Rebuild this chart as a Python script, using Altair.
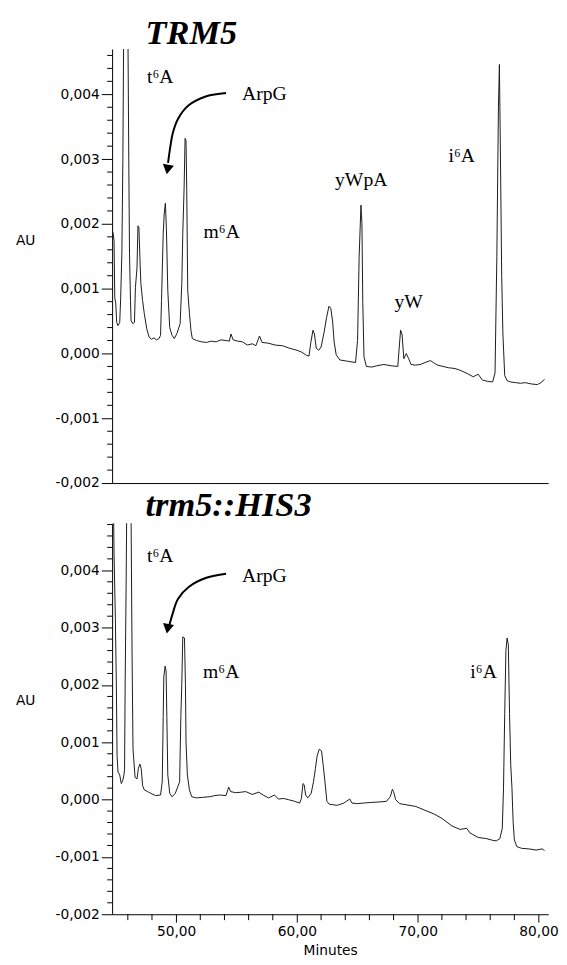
import altair as alt
import pandas as pd

# ---------------- data ----------------
X_DOMAIN = [44.7, 80.8]
TOP_Y_DOMAIN = [-0.002, 0.0047]
BOT_Y_DOMAIN = [-0.002, 0.00482]

# axis ticks: labelled majors and unlabelled minors
Y_MAJOR = [-0.002, -0.001, 0.0, 0.001, 0.002, 0.003, 0.004]
X_MAJOR = [50, 60, 70, 80]
X_MINOR = [46, 48, 52, 54, 56, 58, 62, 64, 66, 68, 72, 74, 76, 78]
Y_MINOR_TOP = [round(-0.002 + 0.0002 * i, 4) for i in range(34) if i % 5 != 0]
Y_MINOR_BOT = [round(-0.002 + 0.0002 * i, 4) for i in range(35) if i % 5 != 0]

top_min = [44.70, 44.78, 44.86, 44.92, 45.00, 45.08, 45.19, 45.33, 45.41, 45.51,
           45.59, 45.83, 46.08, 46.14, 46.22, 46.27, 46.41, 46.55, 46.63, 46.76,
           46.84, 46.92, 47.00, 47.08, 47.22, 47.36, 47.57, 47.77, 47.97, 48.17,
           48.38, 48.58, 48.71, 48.79, 48.93, 49.01, 49.11, 49.20, 49.31, 49.47,
           49.66, 49.85, 50.07, 50.33, 50.47, 50.55, 50.66, 50.74, 50.82, 50.88,
           50.96, 51.10, 51.23, 51.34, 51.69, 52.10, 52.50, 52.90, 53.32, 53.70,
           54.13, 54.40, 54.54, 54.72, 55.10, 55.49, 55.90, 56.30, 56.60, 56.90,
           57.11, 57.60, 58.20, 58.80, 59.40, 60.00, 60.40, 60.80, 61.00, 61.15,
           61.33, 61.45, 61.60, 61.80, 62.00, 62.25, 62.45, 62.65, 62.80, 62.95,
           63.08, 63.25, 63.55, 64.20, 64.85, 65.02, 65.15, 65.30, 65.38, 65.45,
           65.55, 65.75, 66.20, 66.60, 67.20, 67.80, 68.35, 68.45, 68.58, 68.70,
           68.85, 69.05, 69.25, 69.45, 69.80, 70.20, 70.60, 71.05, 71.30, 71.65,
           72.10, 72.55, 73.00, 73.40, 74.00, 74.60, 75.00, 75.35, 75.80, 76.20,
           76.40, 76.55, 76.68, 76.76, 76.85, 76.95, 77.05, 77.20, 77.40, 77.70,
           78.10, 78.50, 78.90, 79.40, 79.90, 80.20, 80.50]
top_au = [0.00189, 0.00186, 0.00174, 0.00086, 0.00078, 0.00048, 0.00043, 0.00048, 0.00086, 0.00158,
          0.00300, 0.01000, 0.00300, 0.00154, 0.00082, 0.00051, 0.00046, 0.00048, 0.00102, 0.00132,
          0.00197, 0.00194, 0.00148, 0.00108, 0.00082, 0.00062, 0.00038, 0.00025, 0.00022, 0.00024,
          0.00021, 0.00023, 0.00028, 0.00082, 0.00185, 0.00215, 0.00232, 0.00189, 0.00097, 0.00040,
          0.00028, 0.00023, 0.00031, 0.00046, 0.00108, 0.00185, 0.00255, 0.00332, 0.00328, 0.00251,
          0.00097, 0.00062, 0.00035, 0.00023, 0.00020, 0.00018, 0.00017, 0.00019, 0.00018, 0.00021,
          0.00020, 0.00019, 0.00030, 0.00021, 0.00019, 0.00018, 0.00013, 0.00015, 0.00012, 0.00027,
          0.00017, 0.00016, 0.00013, 0.00012, 0.00008, 0.00005, 0.00002, -0.00003, -0.00004, 0.00017,
          0.00036, 0.00030, 0.00008, 0.00005, 0.00010, 0.00033, 0.00055, 0.00073, 0.00070, 0.00050,
          0.00018, -0.00002, -0.00010, -0.00012, -0.00014, 0.00020, 0.00150, 0.00229, 0.00200, 0.00080,
          -0.00005, -0.00020, -0.00021, -0.00019, -0.00017, -0.00019, -0.00020, 0.00005, 0.00036, 0.00030,
          -0.00008, 0.00000, -0.00008, -0.00017, -0.00018, -0.00017, -0.00014, -0.00011, -0.00014, -0.00018,
          -0.00020, -0.00022, -0.00023, -0.00025, -0.00030, -0.00036, -0.00032, -0.00041, -0.00043, -0.00044,
          -0.00030, 0.00150, 0.00380, 0.00446, 0.00300, 0.00120, 0.00030, -0.00034, -0.00042, -0.00044,
          -0.00045, -0.00046, -0.00045, -0.00047, -0.00048, -0.00045, -0.00040]

bot_min = [44.76, 44.86, 44.97, 45.05, 45.11, 45.19, 45.33, 45.46, 45.59, 45.68,
           45.73, 45.78, 45.86, 46.10, 46.35, 46.43, 46.49, 46.60, 46.76, 46.87,
           47.00, 47.11, 47.22, 47.36, 47.63, 47.90, 48.30, 48.71, 48.85, 48.93,
           48.98, 49.09, 49.17, 49.23, 49.31, 49.47, 49.66, 49.93, 50.29, 50.39,
           50.47, 50.55, 50.69, 50.77, 50.82, 50.93, 51.10, 51.29, 51.69, 52.20,
           52.77, 53.20, 53.59, 54.13, 54.35, 54.51, 54.94, 55.40, 55.76, 56.30,
           56.84, 57.20, 57.65, 58.14, 58.46, 58.90, 59.28, 59.82, 60.23, 60.37,
           60.50, 60.60, 60.72, 60.90, 61.18, 61.37, 61.53, 61.67, 61.85, 62.04,
           62.18, 62.32, 62.48, 62.67, 63.00, 63.34, 63.89, 64.37, 64.56, 65.00,
           65.51, 66.06, 66.87, 67.41, 67.73, 67.90, 68.00, 68.17, 68.50, 69.03,
           69.85, 70.53, 71.34, 72.02, 72.83, 73.51, 74.05, 74.32, 75.00, 75.68,
           76.20, 76.50, 76.80, 77.00, 77.10, 77.20, 77.30, 77.40, 77.50, 77.60,
           77.70, 77.80, 77.90, 78.00, 78.20, 78.60, 79.20, 79.80, 80.30, 80.50]
bot_au = [0.00600, 0.00430, 0.00316, 0.00202, 0.00077, 0.00048, 0.00043, 0.00028, 0.00034, 0.00043,
          0.00053, 0.00202, 0.00373, 0.01000, 0.00259, 0.00088, 0.00071, 0.00039, 0.00036, 0.00054,
          0.00062, 0.00054, 0.00025, 0.00017, 0.00014, 0.00011, 0.00007, 0.00008, 0.00031, 0.00145,
          0.00214, 0.00233, 0.00224, 0.00145, 0.00043, 0.00011, 0.00005, 0.00011, 0.00031, 0.00145,
          0.00202, 0.00284, 0.00282, 0.00202, 0.00099, 0.00043, 0.00017, 0.00005, 0.00003, 0.00004,
          0.00005, 0.00007, 0.00008, 0.00007, 0.00022, 0.00014, 0.00012, 0.00013, 0.00014, 0.00009,
          0.00013, 0.00008, 0.00003, 0.00008, 0.00001, 0.00002, 0.00000, -0.00003, -0.00006, 0.00002,
          0.00028, 0.00026, 0.00008, 0.00003, 0.00011, 0.00031, 0.00054, 0.00076, 0.00088, 0.00085,
          0.00059, 0.00031, -0.00003, -0.00008, -0.00009, -0.00010, -0.00006, 0.00001, -0.00006, -0.00007,
          -0.00006, -0.00005, -0.00004, -0.00003, 0.00005, 0.00018, 0.00014, 0.00000, -0.00007, -0.00009,
          -0.00012, -0.00018, -0.00025, -0.00033, -0.00046, -0.00052, -0.00050, -0.00058, -0.00066, -0.00068,
          -0.00071, -0.00072, -0.00068, -0.00050, 0.00020, 0.00150, 0.00260, 0.00282, 0.00270, 0.00150,
          0.00060, 0.00020, -0.00040, -0.00070, -0.00082, -0.00085, -0.00086, -0.00088, -0.00086, -0.00089]

top_labels = ["t\u2076A", "ArpG", "m\u2076A", "yWpA", "yW", "i\u2076A"]
top_label_min = [48.68, 57.30, 53.77, 65.32, 69.25, 73.64]
top_label_au = [0.00426, 0.00400, 0.00188, 0.00267, 0.00079, 0.00304]

bot_labels = ["t\u2076A", "ArpG", "m\u2076A", "i\u2076A"]
bot_label_min = [48.68, 57.30, 53.73, 75.45]
bot_label_au = [0.00424, 0.00390, 0.00222, 0.00222]

top_arrow_min = [54.13, 52.50, 51.04, 50.15, 49.72, 49.51, 49.33]
top_arrow_au = [0.00402, 0.00397, 0.00383, 0.00362, 0.00340, 0.00318, 0.00294]
top_head_min = [49.29]
top_head_au = [0.00284]

bot_arrow_min = [54.13, 52.50, 51.04, 50.15, 49.72, 49.42]
bot_arrow_au = [0.00394, 0.00387, 0.00371, 0.00350, 0.00325, 0.00303]
bot_head_min = [49.30]
bot_head_au = [0.00298]

# ---------------- chart ----------------
Y_LABEL_EXPR = "replace(replace(format(datum.value, '.3f'), '.', ','), '\u2212', '-')"
X_LABEL_EXPR = "replace(format(datum.value, '.2f'), '.', ',')"
INK = "#1a1a1a"
MINOR_Y_LEN = 5
MINOR_X_LEN = 6
PLOT_W = 444


def panel(mins, aus, labels, lab_min, lab_au, arr_min, arr_au, head_min, head_au,
          ydom, y_minor, height, title, title_offset, au_y, bottom):
    df = pd.DataFrame({"Minutes": mins, "AU": aus})
    df_lab = pd.DataFrame({"Minutes": lab_min, "AU": lab_au, "label": labels})
    df_arr = pd.DataFrame({"Minutes": arr_min, "AU": arr_au, "i": list(range(len(arr_min)))})
    df_head = pd.DataFrame({"Minutes": head_min, "AU": head_au})
    df_ymin = pd.DataFrame({"AU": y_minor})
    df_unit = pd.DataFrame({"unit": ["AU"]})

    xs = alt.Scale(domain=X_DOMAIN, nice=False, zero=False)
    ys = alt.Scale(domain=ydom, nice=False, zero=False)

    y_axis = alt.Axis(values=Y_MAJOR, labelExpr=Y_LABEL_EXPR, tickSize=11, orient="left",
                      title=None, grid=False)
    if bottom:
        x_axis = alt.Axis(values=X_MAJOR, labelExpr=X_LABEL_EXPR, tickSize=8, orient="bottom",
                          title="Minutes", titlePadding=5, grid=False, labelPadding=3)
    else:
        x_axis = alt.Axis(ticks=False, labels=False, title=None, orient="bottom", grid=False)

    line = alt.Chart(df).mark_line(color=INK, strokeWidth=1, clip=True).encode(
        x=alt.X("Minutes:Q", scale=xs, axis=x_axis),
        y=alt.Y("AU:Q", scale=ys, axis=y_axis),
    )
    text = alt.Chart(df_lab).mark_text(font="Liberation Serif", fontSize=20, color="black",
                                       align="center", baseline="middle").encode(
        x=alt.X("Minutes:Q", scale=xs, axis=None),
        y=alt.Y("AU:Q", scale=ys, axis=None),
        text="label:N",
    )
    arrow = alt.Chart(df_arr).mark_line(color="black", strokeWidth=2,
                                        interpolate="catmull-rom").encode(
        x=alt.X("Minutes:Q", scale=xs, axis=None),
        y=alt.Y("AU:Q", scale=ys, axis=None),
        order="i:Q",
    )
    head = alt.Chart(df_head).mark_point(shape="triangle-down", filled=True, color="black",
                                         size=130, opacity=1, angle=10).encode(
        x=alt.X("Minutes:Q", scale=xs, axis=None),
        y=alt.Y("AU:Q", scale=ys, axis=None),
    )
    # y axis title ("AU"), placed left of the tick labels like the original
    unit = alt.Chart(df_unit).mark_text(font="DejaVu Sans", fontSize=14, color="black",
                                        align="center", baseline="middle").encode(
        x=alt.value(-88), y=alt.value(au_y), text="unit:N",
    )
    # minor tick marks of the y axis
    y_minor_ticks = alt.Chart(df_ymin).mark_rule(color="black", strokeWidth=1).encode(
        y=alt.Y("AU:Q", scale=ys, axis=None),
        x=alt.value(-MINOR_Y_LEN),
        x2=alt.value(0),
    )
    layers = [line, text, arrow, head, unit, y_minor_ticks]
    if bottom:
        df_xmin = pd.DataFrame({"Minutes": X_MINOR})
        x_minor_ticks = alt.Chart(df_xmin).mark_rule(color="black", strokeWidth=1).encode(
            x=alt.X("Minutes:Q", scale=xs, axis=None),
            y=alt.value(height),
            y2=alt.value(height + MINOR_X_LEN),
        )
        layers.append(x_minor_ticks)
    return alt.layer(*layers).resolve_axis(x="independent", y="independent").properties(
        width=PLOT_W, height=height,
        title=alt.TitleParams(title, font="Liberation Serif", fontSize=35, fontStyle="italic",
                              fontWeight="bold", anchor="start", frame="group", dx=34,
                              offset=title_offset, color="black"),
    )


top = panel(top_min, top_au, top_labels, top_label_min, top_label_au,
            top_arrow_min, top_arrow_au, top_head_min, top_head_au,
            TOP_Y_DOMAIN, Y_MINOR_TOP, 442, "TRM5", -2, 196, False)
bot = panel(bot_min, bot_au, bot_labels, bot_label_min, bot_label_au,
            bot_arrow_min, bot_arrow_au, bot_head_min, bot_head_au,
            BOT_Y_DOMAIN, Y_MINOR_BOT, 398, "trm5::HIS3", 0, 181, True)

chart = alt.vconcat(top, bot, spacing=-1).properties(
    padding={"left": 8, "top": 0, "right": 0, "bottom": 0}
).configure_view(stroke=None).configure_axis(
    domainColor="black", tickColor="black", labelColor="black", titleColor="black",
    labelFont="DejaVu Sans", labelFontSize=14, titleFont="DejaVu Sans", titleFontSize=14,
    titleFontWeight="normal", domainWidth=1, tickWidth=1,
)

chart.save("out.html", embed_options={"renderer": "svg", "actions": False})
